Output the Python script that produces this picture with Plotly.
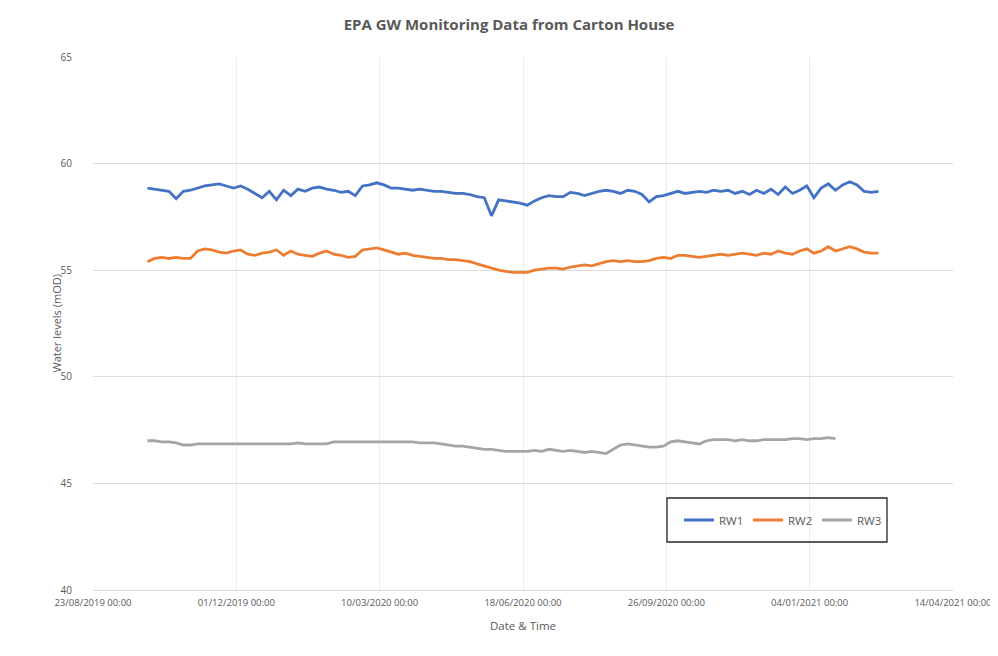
import pandas as pd
import plotly.graph_objects as go

# ---- data ----
series_names = ["RW1", "RW2", "RW3"]
series_colors = ["#4472C4", "#ED7D31", "#A5A5A5"]
start_date = "2019-09-30"
sample_step = "5D"

rw1 = [58.85, 58.8, 58.75, 58.7, 58.35, 58.7, 58.75, 58.85, 58.95, 59.0,
       59.05, 58.95, 58.85, 58.95, 58.8, 58.6, 58.4, 58.7, 58.3, 58.75,
       58.5, 58.8, 58.7, 58.85, 58.9, 58.8, 58.75, 58.65, 58.7, 58.5,
       58.95, 59.0, 59.1, 59.0, 58.85, 58.85, 58.8, 58.75, 58.8, 58.75,
       58.7, 58.7, 58.65, 58.6, 58.6, 58.55, 58.45, 58.4, 57.55, 58.3,
       58.25, 58.2, 58.15, 58.05, 58.25, 58.4, 58.5, 58.45, 58.45, 58.65,
       58.6, 58.5, 58.6, 58.7, 58.75, 58.7, 58.6, 58.75, 58.7, 58.55,
       58.2, 58.45, 58.5, 58.6, 58.7, 58.6, 58.65, 58.7, 58.65, 58.75,
       58.7, 58.75, 58.6, 58.7, 58.55, 58.75, 58.6, 58.8, 58.55, 58.9,
       58.6, 58.75, 58.95, 58.4, 58.85, 59.05, 58.75, 59.0, 59.15, 59.0,
       58.7, 58.65, 58.7]

rw2 = [55.4, 55.55, 55.6, 55.55, 55.6, 55.55, 55.55, 55.9, 56.0, 55.95,
       55.85, 55.8, 55.9, 55.95, 55.75, 55.7, 55.8, 55.85, 55.95, 55.7,
       55.9, 55.75, 55.7, 55.65, 55.8, 55.9, 55.75, 55.7, 55.6, 55.65,
       55.95, 56.0, 56.05, 55.95, 55.85, 55.75, 55.8, 55.7, 55.65, 55.6,
       55.55, 55.55, 55.5, 55.5, 55.45, 55.4, 55.3, 55.2, 55.1, 55.0,
       54.95, 54.9, 54.9, 54.9, 55.0, 55.05, 55.1, 55.1, 55.05, 55.15,
       55.2, 55.25, 55.2, 55.3, 55.4, 55.45, 55.4, 55.45, 55.4, 55.4,
       55.45, 55.55, 55.6, 55.55, 55.7, 55.7, 55.65, 55.6, 55.65, 55.7,
       55.75, 55.7, 55.75, 55.8, 55.75, 55.7, 55.8, 55.75, 55.9, 55.8,
       55.75, 55.9, 56.0, 55.8, 55.9, 56.1, 55.9, 56.0, 56.1, 56.0,
       55.85, 55.8, 55.8]

rw3 = [47.0, 47.0, 46.95, 46.95, 46.9, 46.8, 46.8, 46.85, 46.85, 46.85,
       46.85, 46.85, 46.85, 46.85, 46.85, 46.85, 46.85, 46.85, 46.85, 46.85,
       46.85, 46.9, 46.85, 46.85, 46.85, 46.85, 46.95, 46.95, 46.95, 46.95,
       46.95, 46.95, 46.95, 46.95, 46.95, 46.95, 46.95, 46.95, 46.9, 46.9,
       46.9, 46.85, 46.8, 46.75, 46.75, 46.7, 46.65, 46.6, 46.6, 46.55,
       46.5, 46.5, 46.5, 46.5, 46.55, 46.5, 46.6, 46.55, 46.5, 46.55,
       46.5, 46.45, 46.5, 46.45, 46.4, 46.6, 46.8, 46.85, 46.8, 46.75,
       46.7, 46.7, 46.75, 46.95, 47.0, 46.95, 46.9, 46.85, 47.0, 47.05,
       47.05, 47.05, 47.0, 47.05, 47.0, 47.0, 47.05, 47.05, 47.05, 47.05,
       47.1, 47.1, 47.05, 47.1, 47.1, 47.15, 47.1]

x_tick_dates = ["2019-08-23", "2019-12-01", "2020-03-10", "2020-06-18",
                "2020-09-26", "2021-01-04", "2021-04-14"]
x_tick_labels = ["23/08/2019 00:00", "01/12/2019 00:00", "10/03/2020 00:00",
                 "18/06/2020 00:00", "26/09/2020 00:00", "04/01/2021 00:00",
                 "14/04/2021 00:00"]
y_tick_vals = [40, 45, 50, 55, 60, 65]

title_text = "EPA GW Monitoring Data from Carton House"
x_title = "Date & Time"
y_title = "Water levels (mOD)"

# ---- figure ----
FONT = "Open Sans, Liberation Sans, sans-serif"
TXT = "#595959"
fig = go.Figure()
for name, color, vals in zip(series_names, series_colors, [rw1, rw2, rw3]):
    dates = pd.date_range(start_date, periods=len(vals), freq=sample_step)
    fig.add_trace(go.Scatter(x=dates, y=vals, name=name, mode="lines",
                             line=dict(color=color, width=2.8)))

# page body has an 8px margin, so the figure is 8px smaller and offset
W, H = 990, 648
L, R, T, B = 85, 45, 49, 66
PW, PH = W - L - R, H - T - B

fig.update_layout(
    width=W, height=H,
    margin=dict(l=L, r=R, t=T, b=B, autoexpand=False),
    paper_bgcolor="white", plot_bgcolor="white",
    title=dict(text="<b>" + title_text + "</b>", x=(509 - 8) / W, xanchor="center",
               y=1 - (25 - 8) / H, yanchor="middle",
               font=dict(family=FONT, size=15, color=TXT)),
    font=dict(family=FONT, color=TXT),
    showlegend=True,
    legend=dict(orientation="h", x=(679 - 8 - L) / PW, xanchor="left",
                y=(T + PH - (520 - 8)) / PH, yanchor="middle",
                bgcolor="rgba(0,0,0,0)",
                font=dict(size=11.5, color=TXT),
                entrywidth=24, itemwidth=30),
    shapes=[dict(type="rect", xref="paper", yref="paper",
                 x0=(667 - 8 - L) / PW, x1=(887 - 8 - L) / PW,
                 y0=(T + PH - (542 - 8)) / PH, y1=(T + PH - (498 - 8)) / PH,
                 line=dict(color="#262626", width=1.3), fillcolor="rgba(0,0,0,0)")],
    annotations=[
        dict(text=y_title, xref="paper", yref="paper", x=0, y=0.5,
             xanchor="center", yanchor="middle",
             xshift=-37, textangle=-90, showarrow=False,
             font=dict(family=FONT, size=11, color=TXT)),
        dict(text=x_title, xref="paper", yref="paper", x=0.5, y=0,
             xanchor="center", yanchor="middle",
             yshift=-35, showarrow=False,
             font=dict(family=FONT, size=11.5, color=TXT)),
    ],
)
fig.update_xaxes(
    range=[x_tick_dates[0], x_tick_dates[-1]], automargin=False,
    tickmode="array", tickvals=x_tick_dates, ticktext=x_tick_labels,
    tickfont=dict(size=9.5, color=TXT), tickangle=0,
    showgrid=True, gridcolor="#ececec", gridwidth=1,
    showline=True, linecolor="#d9d9d9", linewidth=1,
    ticks="", zeroline=False, ticklabelstandoff=4,
)
fig.update_yaxes(
    range=[40, 65], tickmode="array", tickvals=y_tick_vals, automargin=False,
    tickfont=dict(size=10, color=TXT),
    showgrid=True, gridcolor="#dcdcdc", gridwidth=1,
    showline=False, ticks="", zeroline=False, ticklabelstandoff=20,
)

fig.write_html("out.html")
